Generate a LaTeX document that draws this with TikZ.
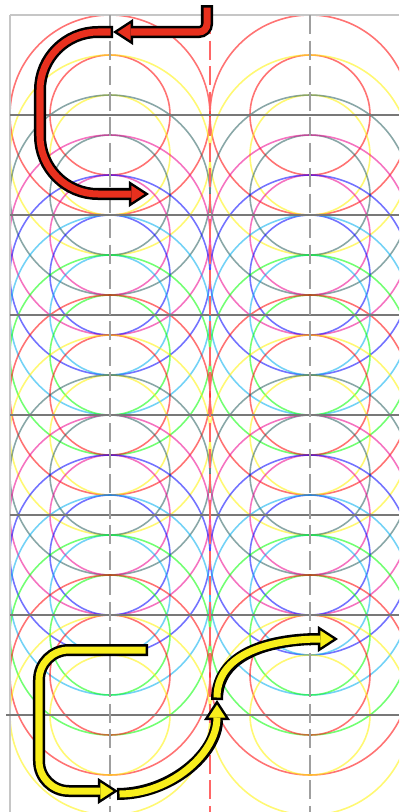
\documentclass[tikz,border=0pt]{standalone}
\usetikzlibrary{arrows.meta}
\definecolor{pathRed}{HTML}{E8301E}
\definecolor{pathYellow}{HTML}{F8EE1C}
\definecolor{ringTeal}{RGB}{40,95,95}
\definecolor{gridGray}{RGB}{120,120,120}

\tikzset{
  ring/.style={line width=0.45pt,opacity=.55},
  gridline/.style={draw=gridGray,line width=0.55pt},
  frameline/.style={draw=gray!45,line width=0.55pt},
  axisline/.style={draw=gray!75,line width=0.45pt,dash pattern=on 0.19cm off 0.065cm},
  edgeline/.style={draw=black,line width=0.12cm,-{Triangle[length=0.2cm,width=0.26cm,line width=0pt]}},
  coreline/.style={line width=0.07cm,shorten <=0.025cm,shorten >=0.046cm,-{Triangle[length=0.129cm,width=0.168cm,line width=0pt]}},
}
\newcommand{\fatarrow}[3][]{%
  \draw[edgeline,#1] #3;
  \draw[coreline,draw=#2,#1] #3;
}

\begin{document}
\begin{tikzpicture}[x=0.01cm,y=-0.01cm]
\useasboundingbox (0,0) rectangle (399,812);
\clip (0,0) rectangle (399,812);

% footprints, two per step
\foreach \k in {0,...,15}{
  \pgfmathparse{{"red","yellow","ringTeal","magenta","blue","cyan","green"}[int(mod(\k,7))]}
  \edef\rc{\pgfmathresult}
  \foreach \cx in {110,310}
    \draw[ring,draw=\rc] (\cx,{115+40*\k}) circle[radius=100] (\cx,{115+40*\k}) circle[radius=60];
}

% grid
\draw[frameline] (10,15) -- (399,15) (10,15) -- (10,812);
\foreach \j in {1,...,6} \draw[gridline] (10,{15+100*\j}) -- (399,{15+100*\j});
\draw[gridline] (6,715) -- (399,715);
\foreach \cx in {110,310} \draw[axisline] (\cx,15) -- (\cx,812);
\draw[axisline,draw=red!60] (210,15) -- (210,812);

% path points
\coordinate (rTop) at (207,5);
\coordinate (rBend) at (207,32);
\coordinate (rMid) at (113,32);
\coordinate (rTurnA) at (40,32);
\coordinate (rTurnB) at (40,194);
\coordinate (rEnd) at (149,194);
\coordinate (yStart) at (148,650);
\coordinate (yTurnA) at (39,650);
\coordinate (yTurnB) at (39,791);
\coordinate (yMid) at (118,791);
\coordinate (yLow) at (117,794);
\coordinate (yUp) at (217,700);
\coordinate (yEnd) at (338,639);

\fatarrow[rounded corners=0.08cm]{pathRed}{(rTop) -- (rBend) -- (rMid)}
\fatarrow[rounded corners=0.58cm]{pathRed}{(rMid) -- (rTurnA) -- (rTurnB) -- (rEnd)}
\fatarrow[rounded corners=0.3cm]{pathYellow}{(yStart) -- (yTurnA) -- (yTurnB) -- (yMid)}
\fatarrow{pathYellow}{(yLow) to[out=0,in=-90] (yUp)}
\fatarrow{pathYellow}{(yUp) to[out=90,in=180] (yEnd)}
\end{tikzpicture}
\end{document}
